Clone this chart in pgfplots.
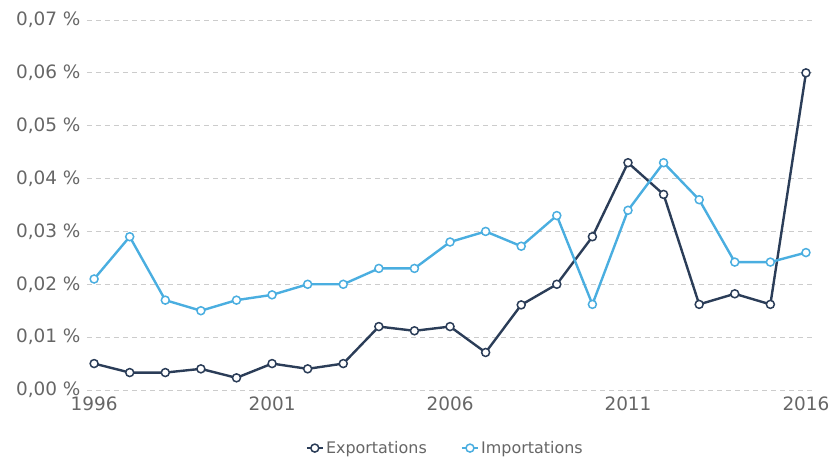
\documentclass[border=0pt]{standalone}
\usepackage{fontspec}
\setmainfont{DejaVu Sans}
\usepackage{pgfplots}
\pgfplotsset{compat=1.18}
\definecolor{expcol}{HTML}{2B3D58}
\definecolor{impcol}{HTML}{4AAEE0}
\definecolor{txtgray}{HTML}{666666}
\definecolor{gridgray}{HTML}{CCCCCC}
\begin{document}
\begin{tikzpicture}
\begin{axis}[
    at={(0,0)}, anchor=south west,
    scale only axis,
    width=725bp, height=370bp,
    xmin=1995.8, xmax=2016.17,
    ymin=0, ymax=0.07,
    axis line style={draw=none},
    scaled y ticks=false,
    xtick={1996,2001,2006,2011,2016},
    xticklabels={1996,2001,2006,2011,2016},
    ytick={0,0.01,0.02,0.03,0.04,0.05,0.06,0.07},
    yticklabels={{0,00 \%},{0,01 \%},{0,02 \%},{0,03 \%},{0,04 \%},{0,05 \%},{0,06 \%},{0,07 \%}},
    ymajorgrids,
    grid style={gridgray, dash pattern=on 5bp off 4bp, line width=0.8bp},
    major tick length=0pt,
    tick style={draw=none},
    tick label style={font=\fontsize{18.5}{22}\selectfont, text=txtgray},
    yticklabel style={xshift=-3bp},
    xticklabel style={yshift=-3bp},
    clip=false,
    legend columns=2,
    legend style={at={(0.494,-0.157)}, anchor=center, draw=none,
        font=\fontsize{16}{19}\selectfont, text=txtgray,
        /tikz/every even column/.append style={column sep=32bp}},
    legend image code/.code={
        \draw[#1, mark repeat=2, mark phase=2] plot coordinates {(0bp,0bp) (8bp,0bp) (16bp,0bp)};},
    every axis plot/.append style={line width=2.4bp, mark=*, mark size=4bp,
        mark options={fill=white, line width=1.5bp}},
]
\addplot[expcol] coordinates {
    (1996,0.0050) (1997,0.0033) (1998,0.0033) (1999,0.0040) (2000,0.0023)
    (2001,0.0050) (2002,0.0040) (2003,0.0050) (2004,0.0120) (2005,0.0112)
    (2006,0.0120) (2007,0.0071) (2008,0.0161) (2009,0.0200) (2010,0.0290)
    (2011,0.0430) (2012,0.0370) (2013,0.0162) (2014,0.0182) (2015,0.0162)
    (2016,0.0600)
};
\addlegendentry{Exportations}
\addplot[impcol] coordinates {
    (1996,0.0210) (1997,0.0290) (1998,0.0170) (1999,0.0150) (2000,0.0170)
    (2001,0.0180) (2002,0.0200) (2003,0.0200) (2004,0.0230) (2005,0.0230)
    (2006,0.0280) (2007,0.0300) (2008,0.0272) (2009,0.0330) (2010,0.0162)
    (2011,0.0340) (2012,0.0430) (2013,0.0360) (2014,0.0242) (2015,0.0242)
    (2016,0.0260)
};
\addlegendentry{Importations}
\end{axis}
\pgfresetboundingbox
\path[use as bounding box] (-87bp,-67bp) rectangle (743bp,390bp);
\end{tikzpicture}
\end{document}
